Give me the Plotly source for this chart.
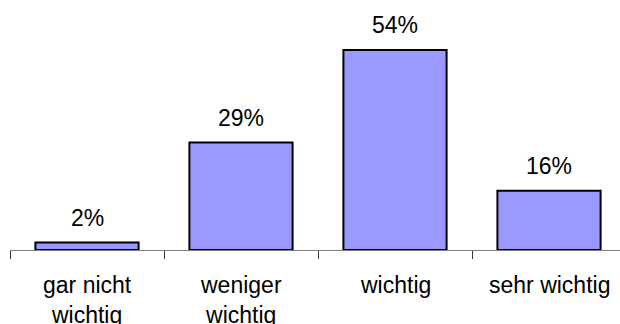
import plotly.graph_objects as go

categories = ["gar nicht<br>wichtig", "weniger<br>wichtig", "wichtig", "sehr wichtig"]
values = [2, 29, 54, 16]
labels = ["2%", "29%", "54%", "16%"]

FONT = dict(family="Liberation Sans, Arial, sans-serif", size=23, color="black")

fig = go.Figure()
fig.add_trace(go.Bar(
    x=list(range(len(categories))),
    y=values,
    marker=dict(color="#9999FF", line=dict(color="black", width=2)),
    hoverinfo="skip",
))

for i, (v, t) in enumerate(zip(values, labels)):
    fig.add_annotation(x=i, y=v, text=t, showarrow=False, yanchor="bottom",
                       yshift=10, font=FONT)

fig.update_layout(
    width=620, height=324,
    margin=dict(l=10, r=0, t=0, b=74),
    paper_bgcolor="white", plot_bgcolor="white",
    bargap=0.33,
    showlegend=False,
    xaxis=dict(
        range=[-0.5, 3.461],
        tickmode="array",
        tickvals=[-0.5, 0.5, 1.5, 2.5],
        ticktext=["", "", "", ""],
        ticks="outside", ticklen=8, tickcolor="#333333", tickwidth=1,
        showline=True, linecolor="#808080", linewidth=1,
        showgrid=False, zeroline=False, fixedrange=True,
    ),
    yaxis=dict(
        range=[0, 67.5], visible=False, showgrid=False, zeroline=False,
        fixedrange=True,
    ),
)

# category labels below the axis
for i, c in enumerate(categories):
    fig.add_annotation(x=i, y=0, yref="y", text=c, showarrow=False,
                       yanchor="top", yshift=-20, font=FONT)

fig.write_html("out.html", config={"displayModeBar": False})
